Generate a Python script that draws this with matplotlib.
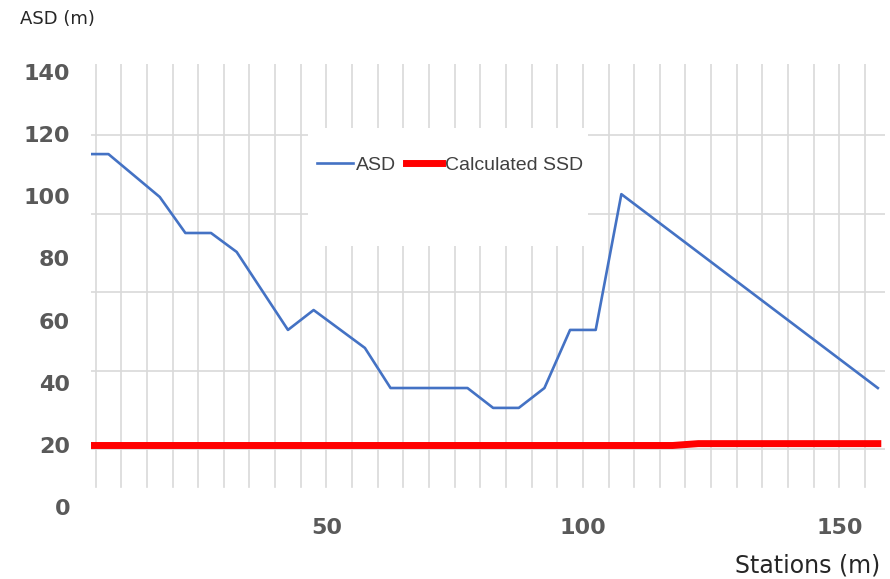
import numpy as np
import matplotlib
matplotlib.use("Agg")
import matplotlib.pyplot as plt
from matplotlib.patches import Rectangle

# ---- data ----
stations = [2.5, 7.5, 17.5, 22.5, 27.5, 32.5, 42.5, 47.5, 57.5, 62.5,
            77.5, 82.5, 87.5, 92.5, 97.5, 102.5, 107.5, 157.5]
asd = [113.6, 113.6, 99.8, 88.2, 88.2, 82.1, 57.0, 63.4, 51.2, 38.3,
       38.3, 31.9, 31.9, 38.3, 57.0, 57.0, 100.7, 38.3]
ssd_stations = [2.5, 117.5, 122.5, 157.5]
ssd = [19.8, 19.8, 20.4, 20.4]
y_ticks = [0, 20, 40, 60, 80, 100, 120, 140]
x_ticks = [50, 100, 150]

# ---- style / layout ----
GRID = "#d9d9d9"
TICK_COL = "#595959"
grid_levels = [18.7, 43.8, 69.2, 94.3, 119.7]
vgrid = np.arange(5, 156, 5)

fig = plt.figure(figsize=(8.9, 5.79), dpi=100)
ax = fig.add_axes([91/890, (579-507)/579, 794/890, 443/579])
ax.set_xlim(4.1, 158.9)
ax.set_ylim(0, 142.6)

for s in ax.spines.values():
    s.set_visible(False)

ax.set_yticks(y_ticks)
ax.set_yticks(grid_levels, minor=True)
ax.yaxis.grid(True, which="minor", color=GRID, lw=1.2, zorder=0)
ax.yaxis.grid(False, which="major")
ax.set_xticks(x_ticks)
ax.tick_params(axis="both", which="both", length=0)
ax.tick_params(axis="y", pad=15)
ax.tick_params(axis="x", pad=8)
for lab in ax.get_yticklabels() + ax.get_xticklabels():
    lab.set_fontsize(16)
    lab.set_fontweight("bold")
    lab.set_color(TICK_COL)
ax.set_axisbelow(True)

for xv in vgrid:
    ax.axvline(xv, ymin=6.4/142.6, ymax=1, color=GRID, lw=1.2, zorder=0.5)

# white legend backdrop
ax.add_patch(Rectangle((0.2733, 0.589), 0.3527, 0.2665, transform=ax.transAxes,
                       facecolor="white", edgecolor="none", zorder=1))

ax.plot(ssd_stations, ssd, color="#ff0000", lw=5, solid_capstyle="projecting",
        zorder=2, label="Calculated SSD")
ax.plot(stations, asd, color="#4472c4", lw=1.9, zorder=3, label="ASD")

h, l = ax.get_legend_handles_labels()
leg = ax.legend(h[::-1], l[::-1], loc="center", bbox_to_anchor=(0.452, 0.772),
                ncol=2, frameon=False, handlelength=1.85, handletextpad=0.15,
                columnspacing=0.5, prop={"family": "Liberation Sans", "size": 14})
for t in leg.get_texts():
    t.set_color("#404040")
leg.set_zorder(4)

fig.text(20/890, 1 - 19/579, "ASD (m)", fontsize=13, color="#262626",
         ha="left", va="center")
fig.text(880/890, 1 - 565/579, "Stations (m)", fontsize=17, color="#262626",
         ha="right", va="center")

fig.savefig("out.png", dpi=100, facecolor="white")
